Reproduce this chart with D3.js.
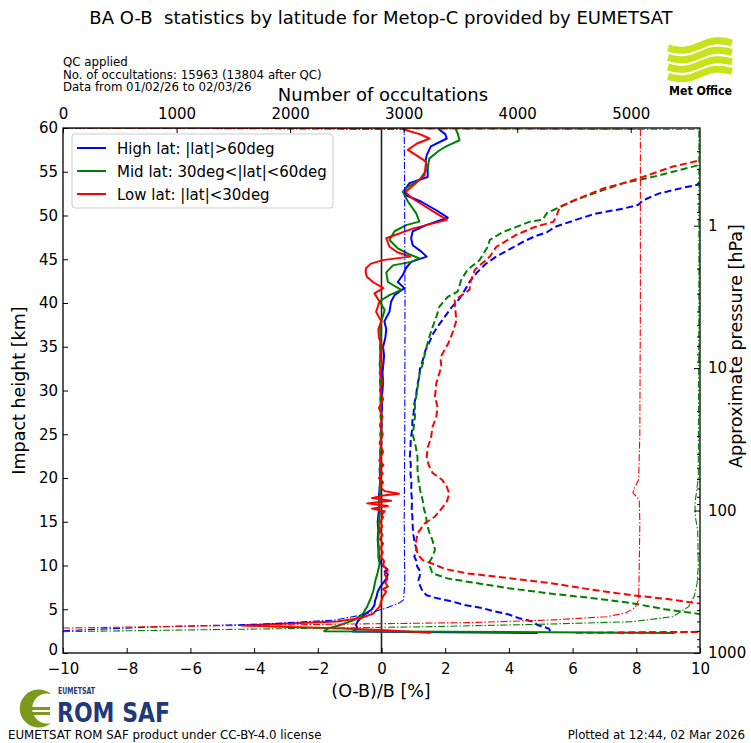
<!DOCTYPE html>
<html>
<head>
<meta charset="utf-8">
<script src="https://cdn.jsdelivr.net/npm/d3@7"></script>
<style>
  body { margin: 0; background: #fff; }
  svg { display: block; }
  text { font-family: "DejaVu Sans", sans-serif; fill: #000; }
</style>
</head>
<body>
<svg id="chart" width="751" height="743"></svg>
<script>
// ---- Profiles: [impact height km, value] ----
// Mean (O-B)/B [%]
const meanHigh = [[2.3,4.9],[2.45,-0.9],[2.8,-0.75],[3.2,-0.8],[3.6,-0.75],[4.0,-0.65],[4.5,-0.5],[5.0,-0.3],[5.5,-0.22],[6.0,-0.2],[6.5,-0.15],[7.0,-0.12],[7.5,-0.05],[8.0,0.05],[8.5,0.15],[9.0,0.2],[9.3,0.1],[9.6,0.18],[10,0.02],[10.5,-0.05],[11,-0.08],[12,-0.1],[13,-0.12],[14,-0.1],[15,-0.12],[16,-0.09],[17,-0.07],[18,-0.08],[19,-0.05],[20,-0.04],[21,-0.06],[22,-0.02],[23,-0.04],[24,0.0],[25,-0.03],[26,0.01],[27,-0.02],[28,0.02],[29,0.0],[30,0.03],[31,0.05],[32,0.03],[33,0.06],[34,0.08],[35,0.05],[36,0.12],[37,0.15],[37.9,0.09],[39,0.25],[40.15,0.3],[40.9,0.41],[41.7,0.72],[42.4,0.51],[43.2,0.67],[44.0,0.77],[44.7,0.93],[45.3,1.42],[45.9,1.24],[46.6,0.98],[47.4,0.93],[48.2,0.98],[48.9,1.4],[49.75,2.08],[50.6,1.72],[51.6,1.24],[52.3,0.77],[52.9,0.72],[53.7,0.88],[54.4,1.45],[55.4,1.45],[56.2,1.38],[56.9,1.42],[57.9,1.55],[58.8,2.05],[59.3,2.0],[59.8,1.82],[60,1.8]];
const meanMid = [[2.3,9.2],[2.5,-1.8],[2.8,-1.68],[3.2,-1.29],[3.8,-0.84],[4.5,-0.58],[5.3,-0.45],[6.4,-0.32],[7.2,-0.25],[8.3,-0.19],[9.2,-0.12],[10.2,-0.06],[11,-0.1],[12,-0.08],[13,-0.11],[14,-0.07],[15,-0.09],[16,-0.05],[17,-0.08],[18,-0.04],[19,-0.06],[20,-0.03],[21,-0.05],[22,-0.02],[23,-0.04],[24,-0.01],[25,-0.03],[26,0.0],[27,-0.03],[28,-0.01],[29,-0.04],[30,-0.02],[31,-0.05],[32,-0.02],[33,-0.06],[34,-0.03],[35,-0.05],[36,-0.02],[37,-0.04],[38,0.0],[39.2,0.1],[40.2,-0.06],[40.9,0.25],[41.5,0.62],[42.4,0.2],[43.5,0.15],[44.3,0.36],[44.7,0.93],[45.1,1.19],[45.6,0.85],[46.25,0.51],[47.2,0.25],[48.2,0.41],[48.9,0.77],[49.3,1.19],[50.25,1.09],[51.6,0.83],[52.7,0.67],[53.2,0.8],[54.06,1.19],[55.4,1.45],[56.5,1.5],[57.4,1.8],[57.9,2.03],[58.6,2.45],[59.3,2.4],[59.8,2.34],[60,2.35]];
const meanLow = [[2.3,1.55],[2.6,0.13],[2.8,-1.2],[3.0,-3.2],[3.15,-4.4],[3.35,-3.1],[3.6,-1.4],[4.0,-0.64],[4.5,-0.26],[5.3,-0.06],[6.0,0.0],[6.5,0.05],[7.0,0.15],[7.3,0.05],[7.6,0.2],[8.0,0.12],[8.5,0.18],[9.0,0.1],[9.5,0.2],[10.0,0.05],[10.5,0.08],[11,-0.02],[11.5,0.04],[12,-0.03],[12.5,0.05],[13,-0.05],[13.5,0.03],[14,-0.06],[14.5,0.02],[15,-0.05],[15.5,0.05],[15.8,0.0],[16.2,0.1],[16.5,-0.3],[16.8,0.2],[17.1,-0.45],[17.4,0.3],[17.7,-0.3],[18.0,0.05],[18.2,0.55],[18.5,0.1],[19,-0.05],[19.5,0.05],[20,-0.08],[20.5,0.04],[21,-0.05],[21.5,0.06],[22,-0.07],[23,0.05],[24,-0.06],[25,0.04],[26,-0.05],[27,0.03],[28,-0.08],[29,0.05],[30,-0.05],[31,0.04],[32,-0.06],[33,0.02],[34,-0.05],[35,0.03],[36,-0.08],[37,-0.1],[37.9,-0.01],[39,-0.17],[40.15,-0.06],[41.1,-0.22],[41.7,0.06],[42.4,-0.27],[43.0,-0.46],[43.6,-0.5],[44.0,-0.48],[44.5,-0.33],[44.9,0.04],[45.3,0.9],[45.8,0.5],[46.43,0.25],[47.4,0.15],[48.5,0.98],[49.5,2.05],[50.3,1.7],[51.2,1.3],[52.0,0.95],[52.7,0.75],[53.6,1.05],[54.6,1.35],[56.15,1.4],[57.5,0.83],[58.2,1.1],[58.8,1.51],[59.3,1.2],[59.8,0.72],[60,0.7]];

// Standard deviation of (O-B)/B [%]
const stdHigh = [[2.5,5.3],[2.8,5.25],[3.2,4.9],[3.6,4.75],[4.0,4.3],[4.4,4.0],[4.8,3.5],[5.1,3.2],[5.5,2.6],[5.9,2.2],[6.3,1.7],[6.6,1.42],[7.0,1.3],[7.6,1.22],[8.3,1.16],[8.8,1.2],[9.3,1.22],[9.9,1.12],[10.5,1.1],[11.0,1.03],[11.8,1.1],[12.5,1.05],[13.5,1.0],[14.5,0.98],[15.5,0.97],[16.5,0.95],[17.5,0.96],[18.5,0.93],[19.5,0.94],[20.5,0.91],[21.5,0.92],[22.5,0.89],[23.5,0.91],[24.5,0.92],[25.5,0.96],[26.5,0.97],[27.5,1.01],[28.5,1.03],[29.5,1.09],[30.5,1.12],[31.5,1.18],[32.5,1.21],[33.5,1.3],[34.5,1.37],[35.5,1.5],[36.5,1.62],[37.5,1.8],[38.5,2.0],[39.5,2.2],[40.5,2.45],[41.5,2.62],[42.5,2.78],[43.5,3.0],[44.5,3.28],[45.3,3.6],[46.3,4.1],[47.0,4.45],[47.6,4.8],[48.1,5.2],[48.7,5.45],[49.5,6.1],[50.2,6.7],[50.8,7.6],[51.2,8.05],[51.8,8.25],[52.5,8.7],[53.2,9.5],[53.8,10.3],[55,11.5],[60,14]];
const stdMid = [[2.3,6.1],[2.45,11],[3.5,13],[4.2,10.3],[4.5,9.9],[5.0,8.9],[5.7,7.86],[6.2,6.8],[6.8,5.28],[7.4,4.0],[8.15,2.7],[8.5,2.1],[8.7,1.93],[9.1,1.6],[9.6,1.55],[10.25,1.48],[11.0,1.6],[11.8,1.68],[12.9,1.6],[13.8,1.5],[14.8,1.42],[15.6,1.4],[16.5,1.33],[17.5,1.29],[18.5,1.22],[19.8,1.16],[21,1.13],[22.4,1.13],[23.5,1.08],[25,0.98],[26,1.02],[27,1.05],[28.6,1.05],[29.5,1.1],[30.8,1.15],[32,1.2],[33.1,1.3],[34.5,1.38],[36.1,1.5],[37.2,1.6],[38.4,1.72],[39.6,1.82],[40.7,2.08],[41.3,2.39],[42.6,2.5],[43.8,2.7],[44.9,3.08],[46.4,3.33],[47.2,3.4],[48.1,3.8],[48.7,4.24],[49.3,4.66],[49.5,5.05],[50.3,5.2],[50.8,5.5],[51.8,6.1],[52.9,6.96],[53.7,7.6],[54.3,8.4],[55.0,9.15],[55.8,10],[60,13]];
const stdLow = [[2.3,7.4],[2.45,11],[4.5,14],[5.7,9.9],[6.2,8.9],[6.6,7.86],[7.3,6.5],[8.0,5.28],[8.6,3.9],[9.1,2.7],[9.6,2.0],[10.2,1.6],[10.6,1.3],[11.2,1.15],[11.8,1.1],[12.5,1.08],[13.7,1.13],[14.0,1.2],[14.8,1.35],[15.6,1.68],[16.7,1.93],[17.3,2.05],[18.2,2.13],[19.0,2.05],[19.8,1.9],[20.6,1.6],[21.5,1.48],[22.4,1.42],[23.5,1.45],[24.5,1.55],[25.8,1.6],[27,1.72],[28.1,1.76],[29.3,1.68],[30.8,1.72],[31.8,1.8],[32.7,1.88],[33.8,1.85],[35.4,2.1],[36.8,2.25],[38.0,2.35],[39.2,2.32],[40.3,2.3],[40.7,2.45],[41.5,2.76],[42.5,2.8],[43.8,2.93],[45.3,3.4],[46.4,3.6],[47.8,4.24],[48.6,4.75],[49.3,5.4],[50.0,5.5],[51.0,5.6],[51.8,6.1],[53.1,6.96],[53.7,7.6],[54.4,8.2],[55.6,9.15],[56.3,10],[60,12]];

// Number of occultations per level
const countHigh = [[2.55,0],[3.0,850],[3.3,1750],[3.77,2400],[4.34,2625],[5.1,2840],[5.7,2960],[6.1,3000],[8,3010],[15,3005],[25,3010],[40,3012],[55,3008],[59.85,3005],[60,0]];
const countMid = [[2.44,0],[3.0,3200],[3.31,4290],[3.58,5010],[4.15,5370],[5.3,5510],[6.5,5560],[8,5585],[10,5595],[14,5590],[15.5,5570],[17,5565],[18.5,5580],[20,5595],[40,5600],[59.85,5600],[60,0]];
const countLow = [[2.85,0],[3.1,1300],[3.3,2480],[3.47,3570],[3.77,4290],[4.15,4790],[4.6,4960],[5.2,5040],[6.1,5070],[10,5075],[15,5080],[17.5,5075],[18.3,5020],[18.8,5030],[19.8,5070],[25,5080],[40,5085],[55,5085],[59.85,5085],[60,0]];

// Axis ticks and labels
const heightTicks = [0,5,10,15,20,25,30,35,40,45,50,55,60];
const obTicks = [-10,-8,-6,-4,-2,0,2,4,6,8,10];
const countTicks = [0,1000,2000,3000,4000,5000];
const pressureTicks = [1,10,100,1000];
const legendLabels = ["High lat: |lat|>60deg","Mid lat: 30deg<|lat|<60deg","Low lat: |lat|<30deg"];
const colors = ["#0000ff","#008000","#ff0000"];
const infoLines = ["QC applied","No. of occultations: 15963 (13804 after QC)","Data from 01/02/26 to 02/03/26"];

const svg = d3.select("#chart");
const P = {left: 63, right: 700, top: 128, bottom: 653};

const x = d3.scaleLinear([-10, 10], [P.left, P.right]);
const xCount = d3.scaleLinear([0, 5610], [P.left, P.right]);
const y = d3.scaleLinear([0, 60], [P.bottom, P.top]);
// approximate pressure from impact height, scale height 7.07 km
const H = 7.07;
const yP = d3.scaleLog([1000, 1000 * Math.exp(-60 / H)], [P.bottom, P.top]);

svg.append("defs").append("clipPath").attr("id", "plotclip")
  .append("rect").attr("x", P.left).attr("y", P.top)
  .attr("width", P.right - P.left).attr("height", P.bottom - P.top);

const plot = svg.append("g").attr("clip-path", "url(#plotclip)");

// zero line
plot.append("line").attr("x1", x(0)).attr("x2", x(0))
  .attr("y1", P.top).attr("y2", P.bottom)
  .attr("stroke", "#222").attr("stroke-width", 1.6);

const lineOB = d3.line().x(d => x(d[1])).y(d => y(d[0]));
const lineN = d3.line().x(d => xCount(d[1])).y(d => y(d[0]));

const means = [meanHigh, meanMid, meanLow];
const stds = [stdHigh, stdMid, stdLow];
const counts = [countHigh, countMid, countLow];

means.forEach((s, i) => plot.append("path").datum(s).attr("d", lineOB)
  .attr("fill", "none").attr("stroke", colors[i]).attr("stroke-width", 2)
  .attr("stroke-linejoin", "round"));
stds.forEach((s, i) => plot.append("path").datum(s).attr("d", lineOB)
  .attr("fill", "none").attr("stroke", colors[i]).attr("stroke-width", 2)
  .attr("stroke-dasharray", "7,3.5"));
counts.forEach((s, i) => plot.append("path").datum(s).attr("d", lineN)
  .attr("fill", "none").attr("stroke", colors[i]).attr("stroke-width", 1.1)
  .attr("stroke-dasharray", "7,2,1.5,2"));

// ---- axes ----
const tickFont = g => g.selectAll("text").style("font-size", "15px").style("font-family", "DejaVu Sans");
const styleAxis = g => { g.select(".domain").remove(); g.selectAll(".tick line").attr("stroke", "#000").attr("stroke-width", 1); tickFont(g); };

svg.append("g").attr("transform", `translate(0,${P.bottom})`)
  .call(d3.axisBottom(x).tickValues(obTicks).tickSizeInner(-5).tickSizeOuter(0).tickPadding(10))
  .call(styleAxis);
svg.append("g").attr("transform", `translate(${P.left},0)`)
  .call(d3.axisLeft(y).tickValues(heightTicks).tickSizeInner(-5).tickSizeOuter(0).tickPadding(5))
  .call(styleAxis)
  // lift the bottom label a little so it clears the x-axis "−10"
  .call(g => g.selectAll(".tick").filter(d => d === 0).select("text").attr("dy", "0.12em"));
svg.append("g").attr("transform", `translate(0,${P.top})`)
  .call(d3.axisTop(xCount).tickValues(countTicks).tickFormat(d3.format("d")).tickSizeInner(-5).tickSizeOuter(0).tickPadding(9))
  .call(styleAxis);

// pressure axis: labelled decades plus minor ticks
const minorP = [];
[0.1, 1, 10, 100].forEach(b => { for (let k = 2; k <= 9; k++) { const v = b * k; if (v >= yP.domain()[1] && v <= 1000) minorP.push(v); } });
svg.append("g").attr("transform", `translate(${P.right},0)`)
  .call(d3.axisRight(yP).tickValues(minorP).tickFormat("").tickSizeInner(-3).tickSizeOuter(0))
  .call(styleAxis);
svg.append("g").attr("transform", `translate(${P.right},0)`)
  .call(d3.axisRight(yP).tickValues(pressureTicks).tickFormat(d3.format("d")).tickSizeInner(-6).tickSizeOuter(0).tickPadding(8))
  .call(styleAxis);

// frame
svg.append("rect").attr("x", P.left).attr("y", P.top)
  .attr("width", P.right - P.left).attr("height", P.bottom - P.top)
  .attr("fill", "none").attr("stroke", "#000").attr("stroke-width", 1.3);

// axis titles
svg.append("text").attr("x", 381).attr("y", 697).attr("text-anchor", "middle")
  .style("font-size", "17.5px").text("(O-B)/B [%]");
svg.append("text").attr("x", 383).attr("y", 101).attr("text-anchor", "middle")
  .style("font-size", "18px").text("Number of occultations");
svg.append("text").attr("transform", `translate(25,${(P.top + P.bottom) / 2}) rotate(-90)`)
  .attr("text-anchor", "middle").style("font-size", "17.5px").text("Impact height [km]");
svg.append("text").attr("transform", `translate(742,346) rotate(-90)`)
  .attr("text-anchor", "middle").style("font-size", "17.5px").text("Approximate pressure [hPa]");

// title and info
svg.append("text").attr("x", 381).attr("y", 24).attr("text-anchor", "middle")
  .style("font-size", "18px").style("white-space", "pre")
  .text("BA O-B  statistics by latitude for Metop-C provided by EUMETSAT");
infoLines.forEach((t, i) => svg.append("text").attr("x", 63).attr("y", 66 + i * 12.5)
  .style("font-size", "11.8px").text(t));

// legend
const lg = svg.append("g");
lg.append("rect").attr("x", 72).attr("y", 134).attr("width", 261).attr("height", 74)
  .attr("rx", 3).attr("fill", "#fff").attr("fill-opacity", 0.85).attr("stroke", "#ccc");
legendLabels.forEach((t, i) => {
  const yy = 148 + i * 23;
  lg.append("line").attr("x1", 77).attr("x2", 106).attr("y1", yy).attr("y2", yy)
    .attr("stroke", colors[i]).attr("stroke-width", 2);
  lg.append("text").attr("x", 117).attr("y", yy + 5.5).style("font-size", "15px").text(t);
});

// footer
svg.append("text").attr("x", 8).attr("y", 739).style("font-size", "11.8px")
  .text("EUMETSAT ROM SAF product under CC-BY-4.0 license");
svg.append("text").attr("x", 745).attr("y", 739).attr("text-anchor", "end").style("font-size", "11.8px")
  .text("Plotted at 12:44, 02 Mar 2026");

// Met Office mark
const mo = svg.append("g");
[0, 1, 2, 3].forEach(k => {
  const pts = d3.range(0, 1.001, 0.05).map(t => [668 + 64 * t, 48 + k * 9.5 - 5 * t + 3.5 * Math.sin(2 * Math.PI * t)]);
  mo.append("path").attr("d", d3.line().curve(d3.curveBasis)(pts))
    .attr("fill", "none").attr("stroke", "#c6e31c").attr("stroke-width", 7);
});
mo.append("text").attr("x", 669).attr("y", 95).attr("textLength", 63).attr("lengthAdjust", "spacingAndGlyphs")
  .style("font-size", "12px").style("font-weight", "bold").text("Met Office");

// ROM SAF mark
const rs = svg.append("g");
rs.append("path").attr("fill-rule", "evenodd").attr("fill", "#7b9a1c")
  .attr("d", "M51,694 A19,19 0 1 0 51,723 A15,15 0 1 1 51,694 Z");
rs.append("rect").attr("x", 30).attr("y", 707).attr("width", 20).attr("height", 3).attr("fill", "#7b9a1c");
rs.append("rect").attr("x", 30).attr("y", 712).attr("width", 20).attr("height", 3).attr("fill", "#7b9a1c");
rs.append("text").attr("x", 58).attr("y", 694).attr("textLength", 37).attr("lengthAdjust", "spacingAndGlyphs")
  .style("font-size", "8.5px").style("font-weight", "bold").style("fill", "#1e3a78").text("EUMETSAT");
rs.append("text").attr("x", 57).attr("y", 722).attr("textLength", 113).attr("lengthAdjust", "spacingAndGlyphs")
  .style("font-size", "27px").style("font-weight", "bold").style("fill", "#1e3a78").text("ROM SAF");
</script>
</body>
</html>
